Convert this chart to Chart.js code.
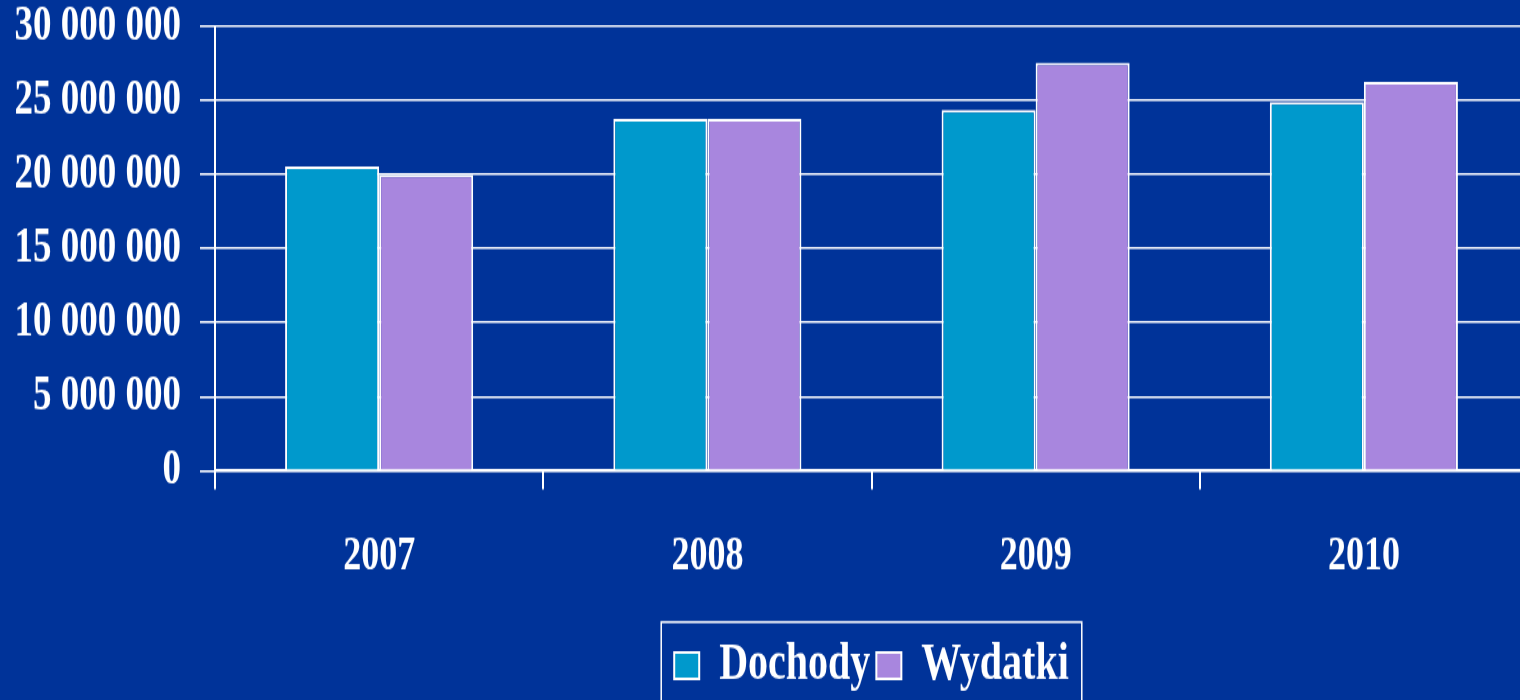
<!DOCTYPE html>
<html>

<head>
    <title>Dochody i wydatki 2007-2010</title>
    <meta charset="UTF-8">
    <script src="https://cdn.jsdelivr.net/npm/chart.js"></script>
    <style>
        html {
            overflow: hidden;
            background-color: #003399; /* slide blue */
        }

        body {
            margin: 0;
            padding: 0;
            width: 1520px;
            height: 700px;
            background-color: #003399;
        }

        /* the chart on the slide is stretched vertically, so draw it flat and scale it up */
        #budgetChart {
            display: block;
            transform: scaleY(1.3208);
            transform-origin: 0 0;
        }
    </style>
</head>

<body>
    <canvas id="budgetChart" width="1528" height="530"></canvas>

    <script>
        // Data
        var years = ['2007', '2008', '2009', '2010'];
        var dochody = [20550000, 23750000, 24350000, 24900000];
        var wydatki = [20000000, 23750000, 27550000, 26250000];
        var yTicks = [0, 5000000, 10000000, 15000000, 20000000, 25000000, 30000000];

        var serif = '"Liberation Serif", "Times New Roman", serif';

        function withSpaces(v) {
            return String(v).replace(/\B(?=(\d{3})+(?!\d))/g, ' ');
        }

        // centre the legend under the plot area (not the whole canvas)
        // and draw the white frame round it, like the PowerPoint one
        var legendFrame = {
            id: 'legendFrame',
            afterUpdate: function (chart) {
                var lg = chart.legend;
                lg.left = chart.chartArea.left;
                lg.right = chart.chartArea.right;
                lg.width = lg.right - lg.left;
            },
            afterDraw: function (chart) {
                var lg = chart.legend;
                var widths = lg.legendHitBoxes.map(function (b) { return b.width; });
                var gap = lg.options.labels.padding;
                var rowWidth = widths.reduce(function (a, b) { return a + b + gap; }, 0) - gap;
                var mid = (lg.left + lg.right) / 2;
                var left = mid - rowWidth / 2 - 13;
                var right = mid + rowWidth / 2 + 13;
                var top = lg.top - 7;
                var ctx = chart.ctx;
                ctx.save();
                ctx.strokeStyle = '#ffffff';
                ctx.lineWidth = 1.5;
                ctx.strokeRect(left, top, right - left, chart.height + 10 - top);
                ctx.restore();
            }
        };

        var ctx = document.getElementById('budgetChart').getContext('2d');
        var budgetChart = new Chart(ctx, {
            type: 'bar',
            data: {
                labels: years,
                datasets: [{
                    label: 'Dochody',
                    data: dochody,
                    backgroundColor: '#0099cc',
                    borderColor: '#ffffff',
                    borderWidth: 2
                }, {
                    label: 'Wydatki',
                    data: wydatki,
                    backgroundColor: '#a886de',
                    borderColor: '#ffffff',
                    borderWidth: 2
                }]
            },
            options: {
                responsive: false,
                animation: false,
                devicePixelRatio: 1,
                categoryPercentage: 0.573,
                barPercentage: 1,
                layout: {
                    padding: { top: 0, left: 0, right: 0, bottom: -4 }
                },
                plugins: {
                    tooltip: { enabled: false },
                    legend: {
                        position: 'bottom',
                        labels: {
                            color: '#ffffff',
                            boxWidth: 25,
                            boxHeight: 20,
                            padding: 6,
                            font: { family: serif, size: 40, weight: 'bold' }
                        }
                    }
                },
                scales: {
                    x: {
                        grid: {
                            drawOnChartArea: false,
                            color: '#ffffff',
                            lineWidth: 2,
                            tickLength: 14
                        },
                        border: { color: '#ffffff', width: 2 },
                        ticks: {
                            color: '#ffffff',
                            padding: 32,
                            font: { family: serif, size: 36, weight: 'bold', lineHeight: 1.1 }
                        },
                        afterFit: function (scale) {
                            scale.height += 4;
                        }
                    },
                    y: {
                        min: 0,
                        max: 30000000,
                        afterBuildTicks: function (scale) {
                            scale.ticks = yTicks.map(function (v) { return { value: v }; });
                        },
                        grid: {
                            color: '#ffffff',
                            lineWidth: 1.6,
                            tickLength: 15
                        },
                        border: { color: '#ffffff', width: 2 },
                        ticks: {
                            color: '#ffffff',
                            padding: 19,
                            font: { family: serif, size: 37, weight: 'bold', lineHeight: 1.1 },
                            callback: function (value) {
                                return withSpaces(value);
                            }
                        },
                        afterFit: function (scale) {
                            scale.width = 215;
                            scale.paddingTop = 20;
                        }
                    }
                }
            },
            plugins: [legendFrame]
        });
    </script>
</body>

</html>
